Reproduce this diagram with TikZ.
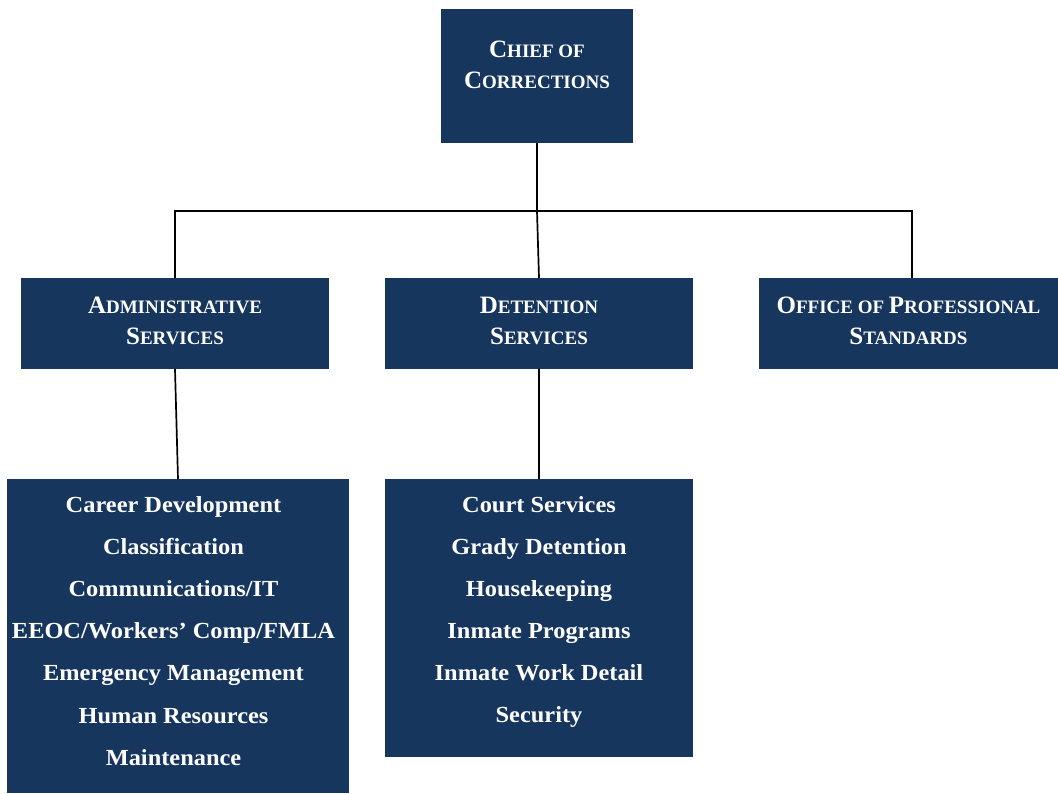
\documentclass[tikz,border=0pt]{standalone}
\usepackage{fontspec}
\setmainfont{Liberation Serif}
\newfontfamily\hdrfam{Liberation Serif}
\newfontfamily\listfam{Liberation Serif}[FakeStretch=1.06]
\definecolor{navy}{HTML}{17365D}
\newcommand\Cap[1]{{\fontsize{25}{25}\selectfont #1}}
\newcommand\boxtext[5]{\parbox[c][#2pt][t]{#1pt}{\centering\bfseries\color{white}#5\rule{0pt}{#3pt}#4}}
\tikzset{
  unit/.style={rectangle, fill=navy, inner sep=0pt, outer sep=0pt},
  conn/.style={line width=1.7pt, black},
}
\begin{document}
\begin{tikzpicture}[x=1pt,y=-1pt]
\useasboundingbox (0,0) rectangle (1058,793);
\node[unit] (chief) at (537,76) {\boxtext{192}{134}{48}{\Cap{C}HIEF OF\\\Cap{C}ORRECTIONS}{\hdrfam\fontsize{19}{31}\selectfont}};
\node[unit] (admin) at (175,323.5) {\boxtext{308}{91}{35}{\Cap{A}DMINISTRATIVE\\\Cap{S}ERVICES}{\hdrfam\fontsize{19}{31}\selectfont}};
\node[unit] (det) at (539,323.5) {\boxtext{308}{91}{35}{\Cap{D}ETENTION\\\Cap{S}ERVICES}{\hdrfam\fontsize{19}{31}\selectfont}};
\node[unit] (ops) at (908.5,323.5) {\boxtext{299}{91}{35}{\Cap{O}FFICE OF \Cap{P}ROFESSIONAL\\\Cap{S}TANDARDS}{\hdrfam\fontsize{19}{31}\selectfont}};
\node[unit] (adminlist) at (178,636) {\boxtext{342}{314}{33}{Career Development\\Classification\\Communications/IT\\EEOC/Workers’ Comp/FMLA\\Emergency Management\\Human Resources\\Maintenance}{\listfam\fontsize{23}{42.2}\selectfont\leftskip=0pt plus 1fil\rightskip=9pt plus 1fil}};
\node[unit] (detlist) at (539,618) {\boxtext{308}{278}{33}{Court Services\\Grady Detention\\Housekeeping\\Inmate Programs\\Inmate Work Detail\\Security}{\listfam\fontsize{23}{42}\selectfont}};
\coordinate (j) at (537,211);
\coordinate (hl) at (175,211);
\coordinate (hr) at (912,211);
\draw[conn] (chief.south) -- (j) -- (det.north);
\draw[conn] (admin.north) -- (hl) -- (hr) -- (hr |- ops.north);
\draw[conn] (admin.south) -- (adminlist.north);
\draw[conn] (det.south) -- (detlist.north);
\end{tikzpicture}
\end{document}
